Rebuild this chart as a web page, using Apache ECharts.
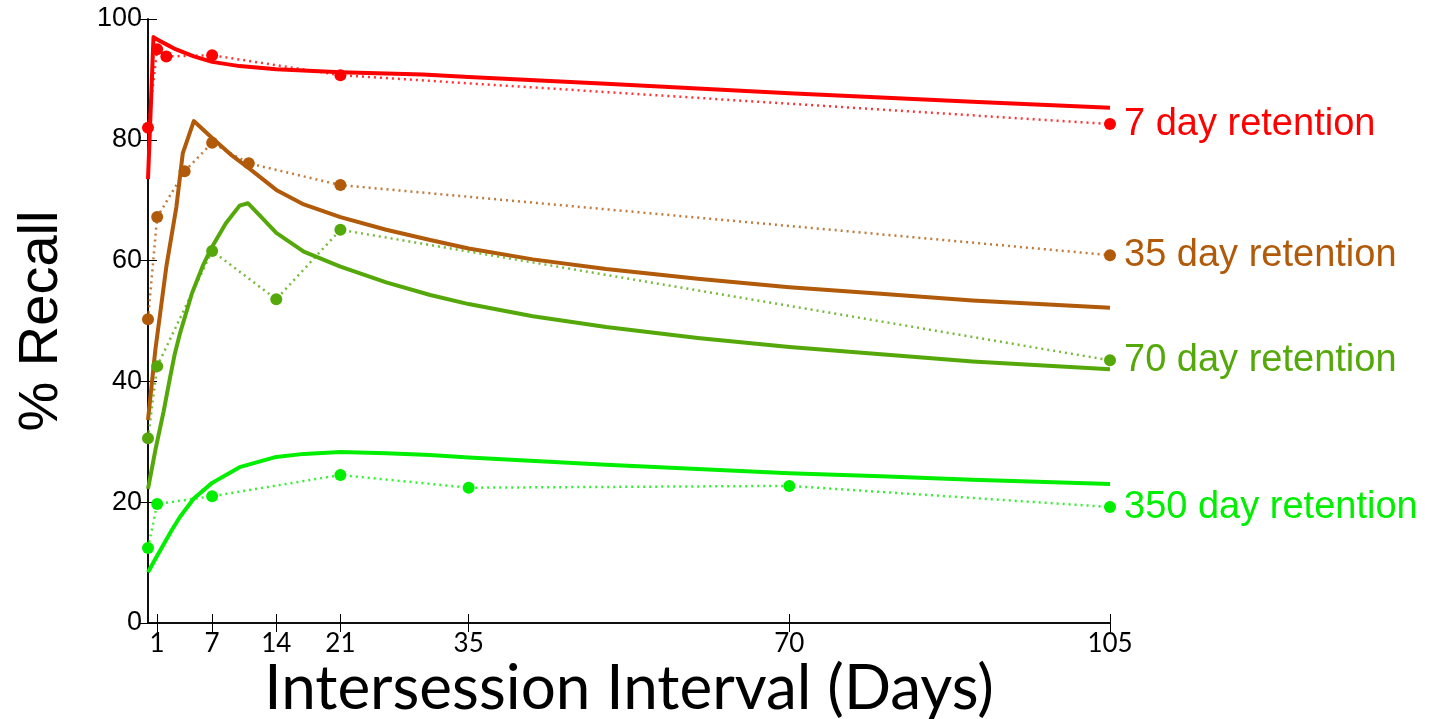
<!DOCTYPE html>
<html>
<head>
<meta charset="utf-8">
<title>Recall vs intersession interval</title>
<script src="https://cdn.jsdelivr.net/npm/echarts@6/dist/echarts.min.js"></script>
<style>
	html, body { margin: 0; padding: 0; background: #fff; }
	#chart { width: 1437px; height: 719px; }
</style>
</head>
<body>
<div id="chart"></div>
<script>
// tick positions on the x axis (days)
var xTicks = [1, 7, 14, 21, 35, 70, 105];

// observed recall (dotted lines with dots) : [gap in days, % recall]
var obs7 = [[0, 82.0], [1, 95.0], [2, 93.8], [7, 94.0], [21, 90.7], [105, 82.6]];
var obs35 = [[0, 50.3], [1, 67.2], [4, 74.8], [7, 79.5], [11, 76.1], [21, 72.5], [105, 60.9]];
var obs70 = [[0, 30.6], [1, 42.5], [7, 61.6], [14, 53.6], [21, 65.1], [105, 43.5]];
var obs350 = [[0, 12.4], [1, 19.7], [7, 21.0], [21, 24.5], [35, 22.4], [70, 22.7], [105, 19.2]];

// model fit (solid lines)
var fit7 = [[0, 73.5], [0.6, 97.0], [1, 96.6], [2, 95.8], [3, 95.0], [5, 93.8], [7, 92.9], [10, 92.2],
	[14, 91.7], [21, 91.2], [30, 90.8], [35, 90.4], [50, 89.3], [70, 87.7], [90, 86.3], [105, 85.3]];
var fit35 = [[0, 33.6], [0.8, 45.2], [2, 59.0], [3.1, 68.9], [3.8, 77.8], [5, 83.1], [7, 80.3], [9, 77.6],
	[11, 75.3], [14, 71.7], [17, 69.3], [21, 67.2], [26, 65.1], [30.8, 63.4], [35, 62.0], [42, 60.2],
	[50, 58.6], [60, 57.0], [70, 55.6], [80, 54.5], [90, 53.4], [105, 52.2]];
var fit70 = [[0, 22.2], [0.8, 28.6], [1.7, 35.0], [2.4, 40.6], [2.9, 44.4], [3.5, 48.0], [4.8, 54.6], [6, 59.2],
	[7, 62.3], [8.5, 66.2], [10, 69.1], [10.9, 69.5], [12.5, 67.0], [14, 64.6], [17, 61.5], [21, 59.0],
	[26, 56.4], [30.8, 54.3], [35, 52.8], [42, 50.8], [50, 49.0], [60, 47.2], [70, 45.7], [80, 44.5],
	[90, 43.3], [105, 42.0]];
var fit350 = [[0, 8.4], [0.8, 10.6], [1.7, 13.0], [2.6, 15.4], [3.5, 17.6], [5, 20.6], [7, 23.2], [10, 25.8],
	[14, 27.5], [17, 28.0], [21, 28.3], [26, 28.1], [30.8, 27.8], [35, 27.4], [50, 26.2], [60, 25.5],
	[70, 24.8], [80, 24.3], [90, 23.7], [105, 23.0]];

var names = ['7 day retention', '35 day retention', '70 day retention', '350 day retention'];
var colors = ['#ff0000', '#b05a0a', '#55a80a', '#00ee00'];
var obsAll = [obs7, obs35, obs70, obs350];
var fitAll = [fit7, fit35, fit70, fit350];

var chart = echarts.init(document.getElementById('chart'));

var series = [];
for (var i = 0; i < names.length; i++) {
	series.push({
		type: 'line',
		data: fitAll[i],
		smooth: false,
		showSymbol: false,
		lineStyle: { color: colors[i], width: 4, join: 'round' },
		z: 3,
		silent: true
	});
	series.push({
		name: names[i],
		type: 'line',
		data: obsAll[i],
		symbol: 'circle',
		symbolSize: 12,
		itemStyle: { color: colors[i] },
		lineStyle: { color: colors[i], width: 2.5, type: [2, 4], opacity: 0.8 },
		endLabel: {
			show: true,
			formatter: names[i],
			color: colors[i],
			fontSize: 38,
			fontFamily: 'Liberation Sans, Arial, sans-serif',
			distance: 14
		},
		z: 4,
		silent: true
	});
}

var option = {
	animation: false,
	grid: { left: 148, right: 327, top: 19, bottom: 96, show: false, outerBoundsMode: 'none' },
	xAxis: [{
		type: 'value',
		min: 0,
		max: 105,
		position: 'bottom',
		name: 'Intersession Interval (Days)',
		nameLocation: 'middle',
		nameGap: 35,
		nameMoveOverlap: false,
		nameTextStyle: { fontSize: 62, color: '#000', fontFamily: 'Lato, sans-serif' },
		axisLine: { lineStyle: { color: '#000', width: 1.5 } },
		axisTick: { inside: true, length: 9, customValues: xTicks, lineStyle: { color: '#000' } },
		axisLabel: { customValues: xTicks, fontSize: 26, color: '#000', margin: 8, fontFamily: 'Lato, sans-serif' },
		splitLine: { show: false }
	}, {
		type: 'value',
		min: 0,
		max: 105,
		position: 'top',
		axisLine: { lineStyle: { color: '#000', width: 1.5 } },
		axisTick: { inside: true, length: 9, customValues: xTicks, lineStyle: { color: '#000' } },
		axisLabel: { show: false },
		splitLine: { show: false }
	}],
	yAxis: [{
		type: 'value',
		min: 0,
		max: 100,
		interval: 20,
		position: 'left',
		name: '% Recall',
		nameLocation: 'middle',
		nameGap: 78,
		nameRotate: 90,
		nameTextStyle: { fontSize: 56, color: '#000', fontFamily: 'Liberation Sans, Arial, sans-serif' },
		axisLine: { show: true, lineStyle: { color: '#000', width: 1.5 } },
		axisTick: { show: true, inside: true, length: 9, lineStyle: { color: '#000' } },
		axisLabel: { fontSize: 27, color: '#000', margin: 6, fontFamily: 'Liberation Sans, Arial, sans-serif' },
		splitLine: { show: false }
	}, {
		type: 'value',
		min: 0,
		max: 100,
		interval: 20,
		position: 'right',
		axisLine: { show: true, lineStyle: { color: '#000', width: 1.5 } },
		axisTick: { show: true, inside: true, length: 9, lineStyle: { color: '#000' } },
		axisLabel: { show: false },
		splitLine: { show: false }
	}],
	series: series
};

chart.setOption(option);
</script>
</body>
</html>
